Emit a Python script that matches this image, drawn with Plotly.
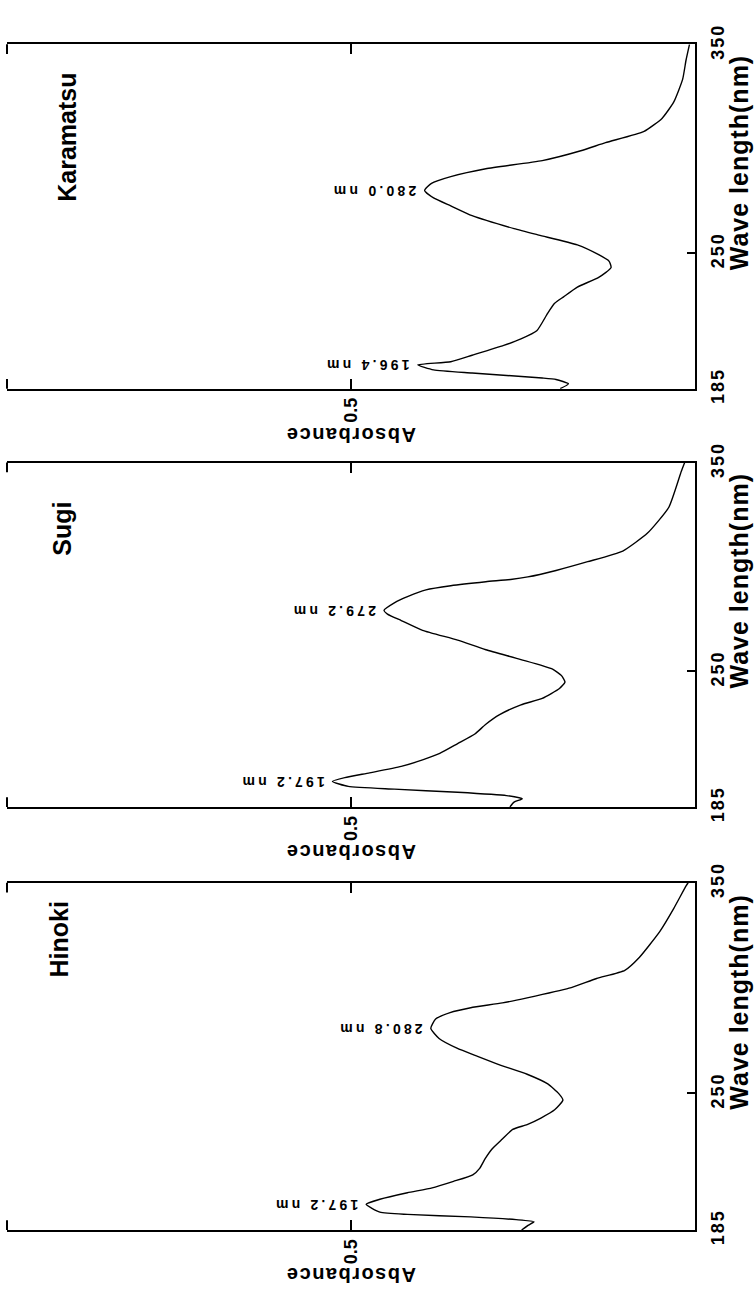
import plotly.graph_objects as go
import numpy as np

# ---------------- data ----------------
SPECIES = ["Karamatsu", "Sugi", "Hinoki"]

KARAMATSU_WL = [185.0, 187.3, 189.4, 190.1, 192.5, 194.0, 196.4, 197.9, 201.0, 205.7,
                208.8, 212.7, 221.2, 225.9, 229.0, 233.7, 238.3, 243.0, 246.1, 249.2,
                253.9, 258.6, 261.7, 267.9, 272.6, 276.4, 280.0, 283.4, 286.6, 290.4,
                294.3, 299.0, 302.9, 308.3, 314.5, 322.3, 333.2, 342.5, 350.0]
KARAMATSU_ABS = [0.196, 0.184, 0.202, 0.222, 0.324, 0.380, 0.403, 0.355, 0.324, 0.278,
                 0.253, 0.230, 0.214, 0.204, 0.191, 0.171, 0.140, 0.122, 0.125, 0.140,
                 0.171, 0.227, 0.263, 0.324, 0.355, 0.380, 0.393, 0.383, 0.355, 0.304,
                 0.222, 0.166, 0.130, 0.074, 0.048, 0.031, 0.018, 0.013, 0.008]
KARAMATSU_PEAKS = [196.4, 280.0]

SUGI_WL = [185.0, 187.3, 188.9, 190.4, 192.0, 193.5, 194.8, 197.2, 199.0, 201.3,
           204.4, 207.5, 210.6, 215.3, 219.9, 224.6, 229.2, 233.9, 237.0, 241.7,
           244.8, 247.9, 251.0, 255.6, 260.3, 264.9, 269.6, 274.3, 277.4, 279.2,
           282.8, 285.9, 289.0, 291.0, 292.9, 294.0, 295.2, 298.3, 302.5, 307.6,
           316.2, 328.6, 345.7, 350.0]
SUGI_ABS = [0.269, 0.263, 0.251, 0.274, 0.345, 0.437, 0.504, 0.527, 0.509, 0.473,
            0.427, 0.396, 0.371, 0.345, 0.320, 0.304, 0.284, 0.253, 0.222, 0.197,
            0.189, 0.194, 0.207, 0.253, 0.304, 0.345, 0.396, 0.427, 0.447, 0.452,
            0.437, 0.417, 0.391, 0.355, 0.304, 0.268, 0.243, 0.202, 0.156, 0.105,
            0.069, 0.038, 0.020, 0.015]
SUGI_PEAKS = [197.2, 279.2]

HINOKI_WL = [185.0, 187.3, 188.9, 189.9, 191.2, 192.4, 193.5, 197.2, 199.6, 202.7,
             205.0, 208.1, 211.2, 214.3, 218.9, 223.5, 228.2, 232.8, 235.1, 238.2,
             242.1, 246.7, 249.8, 254.4, 259.0, 263.6, 267.5, 271.4, 276.0, 280.8,
             285.2, 288.3, 290.6, 292.9, 295.3, 299.9, 304.5, 308.4, 314.5, 326.9,
             337.7, 348.5, 350.0]
HINOKI_ABS = [0.252, 0.242, 0.234, 0.260, 0.326, 0.418, 0.458, 0.478, 0.458, 0.418,
              0.382, 0.351, 0.323, 0.313, 0.305, 0.295, 0.280, 0.265, 0.244, 0.224,
              0.204, 0.192, 0.198, 0.214, 0.244, 0.285, 0.316, 0.346, 0.372, 0.384,
              0.377, 0.356, 0.326, 0.280, 0.244, 0.183, 0.143, 0.102, 0.081, 0.051,
              0.031, 0.013, 0.010]
HINOKI_PEAKS = [197.2, 280.8]

WL_TICKS = [185, 250, 350]
ABS_TICKS = [0.5]
WL_TITLE = "Wave length(nm)"
ABS_TITLE = "Absorbance"

SERIES = [
    (KARAMATSU_WL, KARAMATSU_ABS, KARAMATSU_PEAKS),
    (SUGI_WL, SUGI_ABS, SUGI_PEAKS),
    (HINOKI_WL, HINOKI_ABS, HINOKI_PEAKS),
]

# ---------------- layout / style ----------------
W, H = 754, 1315
X_LEFT, X_RIGHT = 7, 695
PANELS_PX = [(24, 378), (454, 808), (886, 1243)]      # top, bottom in pixels
TITLE_POS = [(0.914, 305.3), (0.920, 318.3), (0.924, 323.2)]  # (abs, wl) of species names
WL_TITLE_AT = 293.0
FONT = "Liberation Sans, Arial, Helvetica, sans-serif"
BLACK = "#000000"


def spaced(t, px):
    return f'<span style="letter-spacing:{px}px">{t}</span>'


fig = go.Figure()
annotations = []
shapes = []
layout = {}

for i, (name, (wl, ab, peaks)) in enumerate(zip(SPECIES, SERIES)):
    n = "" if i == 0 else str(i + 1)
    xa, ya = "x" + n, "y" + n
    top, bot = PANELS_PX[i]
    dom_y = [1 - bot / H, 1 - top / H]
    ph = bot - top

    fig.add_trace(go.Scatter(
        x=ab, y=wl, mode="lines", xaxis=xa, yaxis=ya,
        line=dict(color=BLACK, width=1.4, shape="spline", smoothing=0.5),
        showlegend=False, hoverinfo="skip"))

    layout["xaxis" + n] = dict(
        domain=[X_LEFT / W, X_RIGHT / W], range=[1.0, 0.0], anchor=ya,
        showgrid=False, zeroline=False, showline=True, linewidth=2, linecolor=BLACK,
        mirror="ticks", ticks="inside", ticklen=10, tickwidth=2, tickcolor=BLACK,
        tickvals=ABS_TICKS, ticktext=[f"{v:g}" for v in ABS_TICKS], tickangle=-90,
        tickfont=dict(family=FONT, size=18, color=BLACK, weight=700),
        fixedrange=True)
    layout["yaxis" + n] = dict(
        domain=dom_y, range=[185, 350], anchor=xa, side="right",
        showgrid=False, zeroline=False, showline=True, linewidth=2, linecolor=BLACK,
        mirror=False, ticks="inside", ticklen=8, tickwidth=2, tickcolor=BLACK,
        tickvals=WL_TICKS, ticktext=[spaced(str(v), 2) for v in WL_TICKS], tickangle=-90,
        tickfont=dict(family=FONT, size=18, color=BLACK, weight=700),
        ticklabelstandoff=5, fixedrange=True)

    # left corner stubs of the frame
    stub = 10 / ph
    for y0, y1 in [(0, stub), (1 - stub, 1)]:
        shapes.append(dict(type="line", xref=xa + " domain", yref=ya + " domain",
                           x0=0, x1=0, y0=y0, y1=y1,
                           line=dict(color=BLACK, width=2)))

    # species name
    tx, ty = TITLE_POS[i]
    annotations.append(dict(
        x=tx, y=ty, xref=xa, yref=ya, text=name, showarrow=False, textangle=-90,
        font=dict(family=FONT, size=25, color=BLACK, weight=700)))

    # peak labels
    for p in peaks:
        pa = float(np.interp(p, wl, ab))
        annotations.append(dict(
            x=pa, y=p, xref=xa, yref=ya, text=spaced(f"{p:.1f} nm", 3.2),
            showarrow=False, textangle=180, xanchor="right", yanchor="middle",
            xshift=-6, font=dict(family=FONT, size=14, color=BLACK, weight=700)))

    # axis titles
    annotations.append(dict(
        x=739 / W, y=WL_TITLE_AT, xref="paper", yref=ya, text=spaced(WL_TITLE, 1),
        showarrow=False, textangle=-90, xanchor="center", yanchor="middle",
        font=dict(family=FONT, size=25, color=BLACK, weight=700)))
    annotations.append(dict(
        x=0.5, y=-47 / ph, xref=xa, yref=ya + " domain", text=spaced(ABS_TITLE, 1.5),
        showarrow=False, textangle=180, xanchor="center", yanchor="middle",
        font=dict(family=FONT, size=20, color=BLACK, weight=700)))

fig.update_layout(
    width=W, height=H, margin=dict(l=0, r=0, t=0, b=0, pad=0),
    paper_bgcolor="white", plot_bgcolor="white",
    annotations=annotations, shapes=shapes, showlegend=False,
    **layout)

fig.write_html("out.html", config={"displayModeBar": False},
               post_script="document.body.style.margin='0';")
